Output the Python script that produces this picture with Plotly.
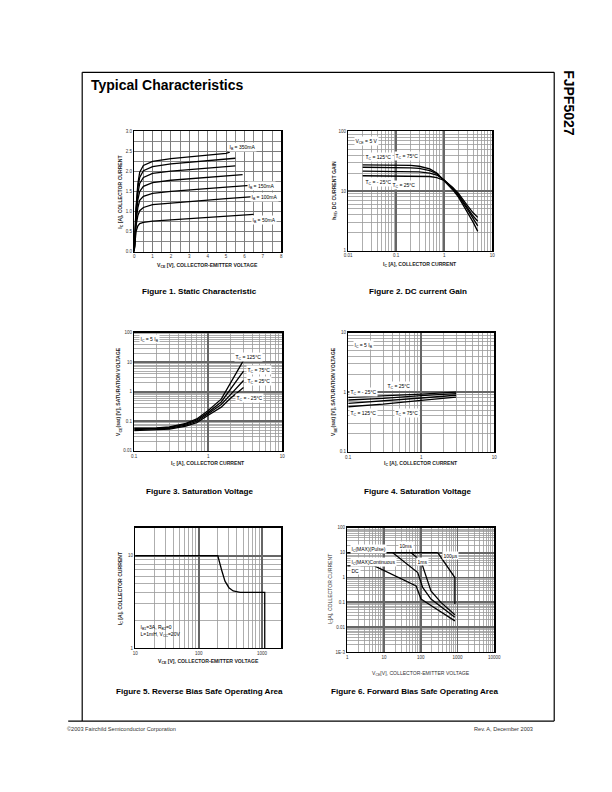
import math
import plotly.graph_objects as go

W, H = 612, 792
FONT = "Liberation Sans"

# ---------------- Figure 1: static characteristic ----------------
f1_vce_a = [0, 0.05, 0.1, 0.2, 0.3, 0.5, 1, 2, 3, 4, 5, 6.5]
f1_vce_b = [0, 0.05, 0.1, 0.2, 0.3, 0.5, 1, 2, 3, 4, 5, 5.9]
f1_vce_c = [0, 0.05, 0.1, 0.2, 0.3, 0.5, 1, 2, 3, 4, 5, 5.5]
f1_vce_d = [0, 0.05, 0.1, 0.2, 0.3, 0.5, 1, 2, 3, 4, 5, 5.2]
f1_ic_50 = [0, 0.30, 0.50, 0.64, 0.70, 0.73, 0.76, 0.79, 0.82, 0.85, 0.88, 0.93]
f1_ic_100 = [0, 0.35, 0.65, 0.90, 1.02, 1.10, 1.17, 1.21, 1.25, 1.29, 1.32, 1.37]
f1_ic_150 = [0, 0.40, 0.75, 1.10, 1.28, 1.38, 1.45, 1.50, 1.54, 1.58, 1.61, 1.66]
f1_ic_200 = [0, 0.45, 0.85, 1.30, 1.50, 1.63, 1.72, 1.78, 1.82, 1.86, 1.89, 1.92]
f1_ic_250 = [0, 0.50, 0.95, 1.45, 1.70, 1.85, 1.95, 2.01, 2.05, 2.09, 2.12, 2.14]
f1_ic_300 = [0, 0.55, 1.05, 1.60, 1.85, 2.02, 2.12, 2.19, 2.23, 2.27, 2.30, 2.33]
f1_ic_350 = [0, 0.60, 1.10, 1.70, 1.98, 2.15, 2.25, 2.32, 2.37, 2.41, 2.45, 2.48]
f1_xticks = [0, 1, 2, 3, 4, 5, 6, 7, 8]
f1_yticks = [0.0, 0.5, 1.0, 1.5, 2.0, 2.5, 3.0]

# ---------------- Figure 2: DC current gain ----------------
f2_ic = [0.02, 0.05, 0.1, 0.2, 0.3, 0.5, 0.7, 1, 1.5, 2, 3, 4, 5]
f2_h_125 = [27.5, 27.5, 27.3, 26.8, 26.0, 23.5, 20.0, 15.0, 10.5, 7.8, 4.6, 3.0, 2.1]
f2_h_75 = [25.0, 25.0, 24.9, 24.5, 24.0, 22.0, 19.5, 15.2, 11.0, 8.2, 5.0, 3.4, 2.6]
f2_h_25 = [21.5, 21.5, 21.5, 21.3, 21.0, 20.0, 18.5, 15.3, 11.3, 8.6, 5.4, 3.8, 3.1]
f2_h_m25 = [18.0, 18.0, 18.0, 18.0, 17.8, 17.5, 16.8, 15.0, 11.5, 9.0, 5.8, 4.3, 3.6]
f2_xticks = [0.01, 0.1, 1, 10]
f2_xtext = ["0.01", "0.1", "1", "10"]
f2_yticks = [1, 10, 100]
f2_ytext = ["1", "10", "100"]

# ---------------- Figure 3: VCE(sat) ----------------
f3_ic = [0.1, 0.2, 0.3, 0.5, 0.7, 1, 1.5, 2, 2.5, 3]
f3_v_125 = [0.058, 0.060, 0.065, 0.085, 0.12, 0.23, 0.56, 1.9, 5.0, 11.5]
f3_v_75 = [0.055, 0.057, 0.062, 0.080, 0.11, 0.20, 0.45, 1.2, 2.6, 5.0]
f3_v_25 = [0.052, 0.054, 0.058, 0.074, 0.10, 0.18, 0.37, 0.8, 1.4, 2.4]
f3_v_m25 = [0.048, 0.050, 0.054, 0.068, 0.09, 0.16, 0.30, 0.6, 0.95, 1.4]
f3_xticks = [0.1, 1, 10]
f3_xtext = ["0.1", "1", "10"]
f3_yticks = [0.01, 0.1, 1, 10, 100]
f3_ytext = ["0.01", "0.1", "1", "10", "100"]

# ---------------- Figure 4: VBE(sat) ----------------
f4_ic = [0.1, 0.3, 1, 3]
f4_v_m25 = [0.82, 0.86, 0.93, 1.00]
f4_v_25 = [0.74, 0.79, 0.88, 0.95]
f4_v_75 = [0.65, 0.71, 0.80, 0.89]
f4_v_125 = [0.57, 0.63, 0.73, 0.83]
f4_xticks = [0.1, 1, 10]
f4_xtext = ["0.1", "1", "10"]
f4_yticks = [0.1, 1, 10]
f4_ytext = ["0.1", "1", "10"]

# ---------------- Figure 5: RBSOA ----------------
f5_vce = [10, 200, 230, 260, 300, 350, 450, 700, 1100, 1100]
f5_ic = [10, 10, 7.0, 5.3, 4.5, 4.15, 4.0, 4.0, 4.0, 1.0]
f5_xticks = [10, 100, 1000]
f5_xtext = ["10", "100", "1000"]
f5_yticks = [1, 10]
f5_ytext = ["1", "10"]

# ---------------- Figure 6: FBSOA ----------------
f6_pulse_v = [1, 290]
f6_pulse_i = [10, 10]
f6_100us_v = [290, 850, 850]
f6_100us_i = [10, 1.0, 0.085]
f6_1ms_v = [55, 102, 190, 355, 850]
f6_1ms_i = [10, 4.6, 0.29, 0.1, 0.032]
f6_10ms_v = [17.4, 83, 113, 190, 850]
f6_10ms_i = [10, 1.58, 0.4, 0.136, 0.025]
f6_dc_v = [1, 5.5, 75, 102, 190, 850]
f6_dc_i = [2.93, 2.93, 0.46, 0.136, 0.075, 0.018]
f6_xticks = [1, 10, 100, 1000, 10000]
f6_xtext = ["1", "10", "100", "1000", "10000"]
f6_yticks = [0.001, 0.01, 0.1, 1, 10, 100]
f6_ytext = ["1E-3", "0.01", "0.1", "1", "10", "100"]


# the page is photographed slightly shrunk; map target picture pixels to page pixels
def PX(x):
    return 100 + (x - 101) / 0.982


def PY(y):
    return 100 + (y - 101) / 0.9925


# pixel boxes of plot areas in the target picture (left, right, top, bottom)
boxes = {
    1: (133, 280, 131, 251),
    2: (347, 491, 131, 250),
    3: (133, 281, 332, 450),
    4: (347, 493, 332, 451),
    5: (134, 280, 527, 647),
    6: (346, 493, 527, 651),
}

fig = go.Figure()


def add(n, x, y, width=1.3, color="black"):
    fig.add_trace(go.Scatter(x=x, y=y, mode="lines", line=dict(color=color, width=width),
                             xaxis="x" if n == 1 else f"x{n}", yaxis="y" if n == 1 else f"y{n}",
                             showlegend=False, hoverinfo="skip"))


for vx, vy in [(f1_vce_a, f1_ic_50), (f1_vce_a, f1_ic_100), (f1_vce_a, f1_ic_150),
               (f1_vce_b, f1_ic_200), (f1_vce_c, f1_ic_250), (f1_vce_c, f1_ic_300),
               (f1_vce_d, f1_ic_350)]:
    add(1, vx, vy)
for vy in [f2_h_125, f2_h_75, f2_h_25, f2_h_m25]:
    add(2, f2_ic, vy)
for vy in [f3_v_125, f3_v_75, f3_v_25, f3_v_m25]:
    add(3, f3_ic, vy)
for vy in [f4_v_m25, f4_v_25, f4_v_75, f4_v_125]:
    add(4, f4_ic, vy)
add(5, f5_vce, f5_ic)
for vx, vy in [(f6_pulse_v, f6_pulse_i), (f6_100us_v, f6_100us_i), (f6_1ms_v, f6_1ms_i),
               (f6_10ms_v, f6_10ms_i), (f6_dc_v, f6_dc_i)]:
    add(6, vx, vy)

tickfont = dict(family=FONT, size=4.5, color="#333")


def base_axis():
    return dict(showline=True, linecolor="black", linewidth=1.4, mirror=True,
                ticks="", zeroline=False, tickfont=tickfont, showgrid=True,
                fixedrange=True)


def place(a, n, which):
    l, r, t, b = boxes[n]
    if which == "x":
        a["domain"] = [PX(l) / W, PX(r) / W]
        a["anchor"] = "y" if n == 1 else f"y{n}"
    else:
        a["domain"] = [1 - PY(b) / H, 1 - PY(t) / H]
        a["anchor"] = "x" if n == 1 else f"x{n}"
    return a


def lin_axis(n, which, rng, ticks, text, minor):
    a = base_axis()
    a.update(range=rng, tickmode="array", tickvals=ticks, ticktext=text,
             gridcolor="#7a7a7a", gridwidth=0.9,
             minor=dict(dtick=minor, showgrid=True, gridcolor="#7a7a7a", gridwidth=0.9))
    return place(a, n, which)


def log_axis(n, which, lo, hi, ticks, text):
    a = base_axis()
    a.update(type="log", range=[math.log10(lo), math.log10(hi)], tickmode="array",
             tickvals=ticks, ticktext=text, gridcolor="#666", gridwidth=1.8,
             minor=dict(dtick="D1", showgrid=True, gridcolor="#9a9a9a", gridwidth=0.8))
    return place(a, n, which)


layout = dict(
    width=W, height=H, margin=dict(l=0, r=0, t=0, b=0),
    paper_bgcolor="white", plot_bgcolor="white", showlegend=False,
    xaxis=lin_axis(1, "x", [0, 8], f1_xticks, [str(v) for v in f1_xticks], 0.5),
    yaxis=lin_axis(1, "y", [0, 3.0], f1_yticks, [f"{v:.1f}" for v in f1_yticks], 0.25),
    xaxis2=log_axis(2, "x", 0.01, 10, f2_xticks, f2_xtext),
    yaxis2=log_axis(2, "y", 1, 100, f2_yticks, f2_ytext),
    xaxis3=log_axis(3, "x", 0.1, 10, f3_xticks, f3_xtext),
    yaxis3=log_axis(3, "y", 0.01, 100, f3_yticks, f3_ytext),
    xaxis4=log_axis(4, "x", 0.1, 10, f4_xticks, f4_xtext),
    yaxis4=log_axis(4, "y", 0.1, 10, f4_yticks, f4_ytext),
    xaxis5=log_axis(5, "x", 10, 2000, f5_xticks, f5_xtext),
    yaxis5=log_axis(5, "y", 1, 20, f5_yticks, f5_ytext),
    xaxis6=log_axis(6, "x", 1, 10000, f6_xticks, f6_xtext),
    yaxis6=log_axis(6, "y", 0.001, 100, f6_yticks, f6_ytext),
)
fig.update_layout(**layout)

ann = []


def paper_text(x, y, text, size, bold=False, angle=0, family=FONT, xanchor="center", color="black"):
    ann.append(dict(x=PX(x) / W, y=1 - PY(y) / H, xref="paper", yref="paper",
                    text=f"<b>{text}</b>" if bold else text,
                    showarrow=False, textangle=angle, xanchor=xanchor, yanchor="middle", borderpad=0,
                    font=dict(family=family, size=size, color=color)))


def data_text(n, x, y, text, size=5, xanchor="left", logx=True, logy=True, bg="white"):
    xr = "x" if n == 1 else f"x{n}"
    yr = "y" if n == 1 else f"y{n}"
    d = dict(x=math.log10(x) if logx else x, y=math.log10(y) if logy else y, xref=xr, yref=yr,
             text=text, xanchor=xanchor, yanchor="middle", bgcolor=bg, borderpad=0.5,
             font=dict(family=FONT, size=size, color="black"), showarrow=False)
    ann.append(d)


paper_text(89, 85, "Typical Characteristics", 14, bold=True, xanchor="left")
paper_text(567, 103, "FJPF5027", 14, bold=True, angle=90)
paper_text(65, 728, "©2003 Fairchild Semiconductor Corporation", 5.6, xanchor="left", color="#333")
paper_text(533, 728, "Rev. A, December 2003", 5.6, xanchor="right", color="#333")

CAP = 8.1
paper_text(198, 291, "Figure 1. Static Characteristic", CAP, bold=True)
paper_text(417, 291, "Figure 2. DC current Gain", CAP, bold=True)
paper_text(198, 491, "Figure 3. Saturation Voltage", CAP, bold=True)
paper_text(416, 491, "Figure 4. Saturation Voltage", CAP, bold=True)
paper_text(198, 690, "Figure 5. Reverse Bias Safe Operating Area", CAP, bold=True)
paper_text(414, 690, "Figure 6. Forward Bias Safe Operating Area", CAP, bold=True)

paper_text(206, 265, "V<sub>CE</sub> [V], COLLECTOR-EMITTER VOLTAGE", 5.1, bold=True, color="#222")
paper_text(119, 191, "I<sub>C</sub> [A], COLLECTOR CURRENT", 5.1, bold=True, angle=-90, color="#222")
paper_text(419, 264, "I<sub>C</sub> [A], COLLECTOR CURRENT", 5.1, bold=True, color="#222")
paper_text(333, 190, "h<sub>FE</sub>, DC CURRENT GAIN", 5.1, bold=True, angle=-90, color="#222")
paper_text(207, 463, "I<sub>C</sub> [A], COLLECTOR CURRENT", 5.1, bold=True, color="#222")
paper_text(118, 391, "V<sub>CE</sub>(sat) [V], SATURATION VOLTAGE", 5.1, bold=True, angle=-90, color="#222")
paper_text(420, 463, "I<sub>C</sub> [A], COLLECTOR CURRENT", 5.1, bold=True, color="#222")
paper_text(333, 391, "V<sub>BE</sub>(sat) [V], SATURATION VOLTAGE", 5.1, bold=True, angle=-90, color="#222")
paper_text(207, 660, "V<sub>CE</sub> [V], COLLECTOR-EMITTER VOLTAGE", 5.1, bold=True, color="#222")
paper_text(120, 587, "I<sub>C</sub> [A], COLLECTOR CURRENT", 5.1, bold=True, angle=-90, color="#222")
paper_text(420, 672, "V<sub>CE</sub>[V], COLLECTOR-EMITTER VOLTAGE", 5.1, color="#333")
paper_text(330, 588, "I<sub>C</sub>[A], COLLECTOR CURRENT", 5.1, angle=-90, color="#333")

data_text(1, 5.1, 2.62, "I<sub>B</sub> = 350mA", logx=False, logy=False)
data_text(1, 6.15, 1.63, "I<sub>B</sub> = 150mA", logx=False, logy=False)
data_text(1, 6.28, 1.36, "I<sub>B</sub> = 100mA", logx=False, logy=False)
data_text(1, 6.37, 0.79, "I<sub>B</sub> = 50mA", logx=False, logy=False)

data_text(2, 0.0135, 70, "V<sub>CE</sub> = 5 V")
data_text(2, 0.021, 37, "T<sub>C</sub> = 125°C")
data_text(2, 0.09, 38, "T<sub>C</sub> = 75°C")
data_text(2, 0.021, 14.2, "T<sub>C</sub> = - 25°C")
data_text(2, 0.078, 12.4, "T<sub>C</sub> = 25°C")

data_text(3, 0.115, 60, "I<sub>C</sub> = 5 I<sub>B</sub>")
data_text(3, 2.2, 15, "T<sub>C</sub> = 125°C")
data_text(3, 3.2, 5.3, "T<sub>C</sub> = 75°C")
data_text(3, 3.2, 2.3, "T<sub>C</sub> = 25°C")
data_text(3, 2.3, 0.6, "T<sub>C</sub> = - 25°C")

data_text(4, 0.115, 6.3, "I<sub>C</sub> = 5 I<sub>B</sub>")
data_text(4, 0.104, 1.0, "T<sub>C</sub> = - 25°C")
data_text(4, 0.33, 1.28, "T<sub>C</sub> = 25°C")
data_text(4, 0.103, 0.44, "T<sub>C</sub> = 125°C")
data_text(4, 0.42, 0.44, "T<sub>C</sub> = 75°C")

data_text(5, 11.5, 1.68, "I<sub>B1</sub>=3A, R<sub>B2</sub>=0", bg=None)
data_text(5, 11.5, 1.42, "L=1mH, V<sub>CC</sub>=20V", bg=None)

data_text(6, 1.2, 14, "I<sub>C</sub>(MAX)(Pulse)")
data_text(6, 1.2, 4.2, "I<sub>C</sub>(MAX)Continuous")
data_text(6, 1.2, 1.9, "DC")
data_text(6, 24, 20, "10ms")
data_text(6, 75, 4.3, "1ms")
data_text(6, 380, 8, "100µs")

fig.update_layout(annotations=ann)

frame = dict(type="line", xref="paper", yref="paper", line=dict(color="black", width=1.2))
L, R, T, B, FL = PX(81) / W, PX(553) / W, 1 - PY(72) / H, 1 - PY(720) / H, PX(67) / W
fig.add_shape(**frame, x0=L, x1=L, y0=T, y1=B)
fig.add_shape(**frame, x0=L, x1=R, y0=T, y1=T)
fig.add_shape(**frame, x0=R, x1=R, y0=T, y1=B)
fig.add_shape(**frame, x0=FL, x1=R, y0=B, y1=B)

fig.write_html(
    "out.html",
    config={"displayModeBar": False, "staticPlot": True},
    post_script=("document.documentElement.style.margin='0';document.body.style.margin='0';"
                 "document.documentElement.style.overflow='hidden';document.body.style.overflow='hidden';"),
)
